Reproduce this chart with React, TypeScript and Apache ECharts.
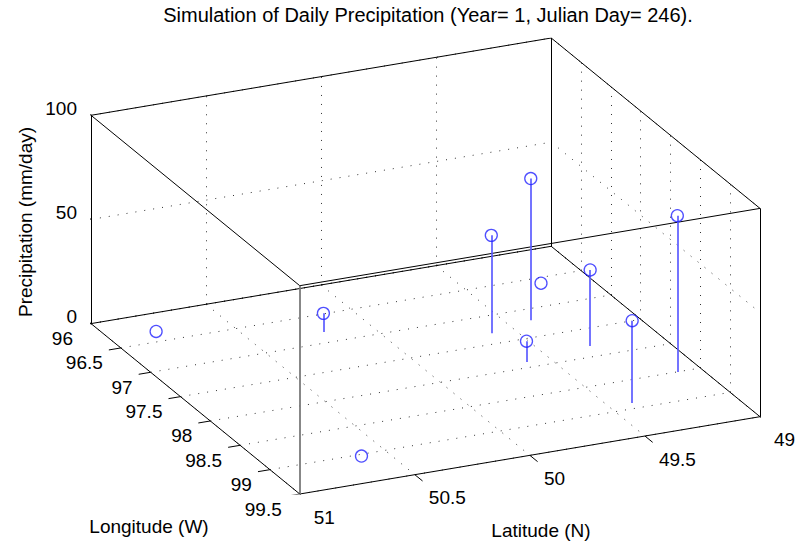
import React, { useEffect, useRef } from "react";
import * as echarts from "echarts";

const chartTitle = "Simulation of Daily Precipitation (Year= 1, Julian Day= 246).";
const latTitle = "Latitude (N)";
const lonTitle = "Longitude (W)";
const zTitle = "Precipitation (mm/day)";

// Station positions (degrees) and simulated daily precipitation (mm/day)
const stationLat = [50.8, 50.2, 50.61, 49.6, 49.4, 49.2, 49.6, 49.3, 49.4, 49.1];
const stationLon = [96.32, 96.81, 99.03, 97.31, 97.2, 96.6, 97.9, 97.81, 98.9, 98.5];
const precipitation = [0, 9, 0, 47, 68, 0, 10, 36.5, 39.5, 75];

// Axis limits and ticks
const latLimits = [49, 51];
const lonLimits = [96, 99.5];
const zLimits = [0, 100];
const latTicks = [51, 50.5, 50, 49.5, 49];
const lonTicks = [96, 96.5, 97, 97.5, 98, 98.5, 99, 99.5];
const zTicks = [0, 50, 100];

// Orthographic camera (degrees) and plot box aspect [lat, lon, z]
const VIEW_AZ = 24.4;
const VIEW_EL = 21.7;
const BOX_ASPECT = [1, 1, 0.443];

const FONT = "Liberation Sans, Arial, Helvetica, sans-serif";
const BLUE = "#2323ff";

type P3 = [number, number, number];

// latitude runs from 51 (near) to 49 (far right)
function project([lat, lon, z]: P3): [number, number] {
  const X = ((latLimits[1] - lat) / (latLimits[1] - latLimits[0])) * BOX_ASPECT[0];
  const Y = ((lon - lonLimits[0]) / (lonLimits[1] - lonLimits[0])) * BOX_ASPECT[1];
  const Z = ((z - zLimits[0]) / (zLimits[1] - zLimits[0])) * BOX_ASPECT[2];
  const a = (VIEW_AZ * Math.PI) / 180;
  const e = (VIEW_EL * Math.PI) / 180;
  const u = X * Math.cos(a) + Y * Math.sin(a);
  const v = (X * Math.sin(a) - Y * Math.cos(a)) * Math.sin(e) + Z * Math.cos(e);
  return [u, v];
}

const seg = (p: P3, q: P3) => ({ coords: [project(p), project(q)] });

function buildOption() {
  const [lat0, lat1] = latLimits;
  const [lon0, lon1] = lonLimits;
  const [z0, z1] = zLimits;

  // box corners and the 12 edges joining them
  const corners: P3[] = [];
  latLimits.forEach((la) => lonLimits.forEach((lo) => zLimits.forEach((z) => corners.push([la, lo, z]))));
  const edges: any[] = [];
  for (let i = 0; i < corners.length; i++) {
    for (let j = i + 1; j < corners.length; j++) {
      let diff = 0;
      for (let k = 0; k < 3; k++) if (corners[i][k] !== corners[j][k]) diff++;
      if (diff !== 1) continue;
      const e: any = seg(corners[i], corners[j]);
      // the near vertical edge (lat 51, lon 99.5) is drawn softer
      const nearVertical =
        corners[i][0] === lat1 && corners[j][0] === lat1 && corners[i][1] === lon1 && corners[j][1] === lon1;
      if (nearVertical) e.lineStyle = { color: "#7a7a7a", width: 1.8 };
      edges.push(e);
    }
  }
  const proj = corners.map(project);
  const uMin = Math.min(...proj.map((p) => p[0]));
  const uMax = Math.max(...proj.map((p) => p[0]));
  const vMin = Math.min(...proj.map((p) => p[1]));
  const vMax = Math.max(...proj.map((p) => p[1]));

  // dotted grid on the floor and the two back walls (lon = 96, lat = 49)
  const grid: any[] = [];
  latTicks.forEach((la) => {
    grid.push(seg([la, lon0, z0], [la, lon1, z0]));
    grid.push(seg([la, lon0, z0], [la, lon0, z1]));
  });
  lonTicks.forEach((lo) => {
    grid.push(seg([lat1, lo, z0], [lat0, lo, z0]));
    grid.push(seg([lat0, lo, z0], [lat0, lo, z1]));
  });
  zTicks.forEach((z) => {
    grid.push(seg([lat1, lon0, z], [lat0, lon0, z]));
    grid.push(seg([lat0, lon0, z], [lat0, lon1, z]));
  });

  // tick marks, pointing out of the box
  const zTickLen = 0.042 * (lon1 - lon0);
  const lonTickLen = 0.026 * (lat1 - lat0);
  const latTickLen = 0.037 * (lon1 - lon0);
  const ticks: any[] = [];
  zTicks.forEach((z) => ticks.push(seg([lat1, lon0, z], [lat1, lon0 - zTickLen, z])));
  lonTicks.forEach((lo) => ticks.push(seg([lat1, lo, z0], [lat1 + lonTickLen, lo, z0])));
  latTicks.forEach((la) => ticks.push(seg([la, lon1, z0], [la, lon1 + latTickLen, z0])));

  // stems and markers
  const stems = precipitation.map((p, i) => seg([stationLat[i], stationLon[i], z0], [stationLat[i], stationLon[i], p]));
  const markers = precipitation.map((p, i) => project([stationLat[i], stationLon[i], p]));

  // tick labels: anchor point on the box, pixel offset and alignment
  const labels: { pt: [number, number]; text: string; dx: number; dy: number; align: string }[] = [];
  zTicks.forEach((z) => labels.push({ pt: project([lat1, lon0, z]), text: String(z), dx: -14, dy: -7, align: "right" }));
  lonTicks.forEach((lo) => labels.push({ pt: project([lat1, lo, z0]), text: String(lo), dx: -18, dy: 15, align: "right" }));
  latTicks.forEach((la) => labels.push({ pt: project([la, lon1, z0]), text: String(la), dx: 14, dy: 23, align: "left" }));

  const linesBase = { type: "lines", coordinateSystem: "cartesian2d", polyline: false, silent: true, animation: false };

  return {
    animation: false,
    grid: { left: 91, top: 38, width: 669, height: 456, show: false },
    xAxis: { type: "value", min: uMin, max: uMax, show: false },
    yAxis: { type: "value", min: vMin, max: vMax, show: false },
    graphic: [
      {
        type: "text",
        x: 428,
        y: 15,
        style: { text: chartTitle, font: `20px ${FONT}`, fill: "#000", align: "center", verticalAlign: "middle" },
      },
      {
        type: "text",
        x: 541,
        y: 530,
        style: { text: latTitle, font: `19px ${FONT}`, fill: "#000", align: "center", verticalAlign: "middle" },
      },
      {
        type: "text",
        x: 149,
        y: 526,
        style: { text: lonTitle, font: `19px ${FONT}`, fill: "#000", align: "center", verticalAlign: "middle" },
      },
      {
        type: "text",
        x: 25,
        y: 222,
        rotation: Math.PI / 2,
        style: { text: zTitle, font: `19px ${FONT}`, fill: "#000", align: "center", verticalAlign: "middle" },
      },
    ],
    series: [
      { ...linesBase, z: 1, data: grid, lineStyle: { color: "#333", width: 1, type: [1, 8], opacity: 1 } },
      { ...linesBase, z: 2, data: edges, lineStyle: { color: "#000", width: 1, opacity: 1 } },
      { ...linesBase, z: 2, data: ticks, lineStyle: { color: "#000", width: 1, opacity: 1 } },
      { ...linesBase, z: 3, data: stems, lineStyle: { color: "#5c5cff", width: 1.7, opacity: 1 } },
      {
        type: "scatter",
        z: 4,
        silent: true,
        symbol: "circle",
        symbolSize: 12,
        data: markers,
        itemStyle: { color: "rgba(0,0,0,0)", borderColor: BLUE, borderWidth: 1.3 },
      },
      {
        type: "custom",
        z: 5,
        silent: true,
        data: labels.map((l) => [l.pt[0], l.pt[1]]),
        encode: { x: 0, y: 1 },
        renderItem: (params: any, api: any) => {
          const l = labels[params.dataIndex];
          const p = api.coord([api.value(0), api.value(1)]);
          return {
            type: "text",
            x: p[0] + l.dx,
            y: p[1] + l.dy,
            style: { text: l.text, font: `19px ${FONT}`, fill: "#000", align: l.align, verticalAlign: "middle" },
          };
        },
      },
    ],
  };
}

export default function App() {
  const ref = useRef<HTMLDivElement>(null);
  useEffect(() => {
    if (!ref.current) return;
    const chart = echarts.init(ref.current, undefined, { renderer: "svg" });
    chart.setOption(buildOption() as any);
    return () => chart.dispose();
  }, []);
  return <div ref={ref} style={{ position: "fixed", left: 0, top: 0, width: 797, height: 544, background: "#fff" }} />;
}
